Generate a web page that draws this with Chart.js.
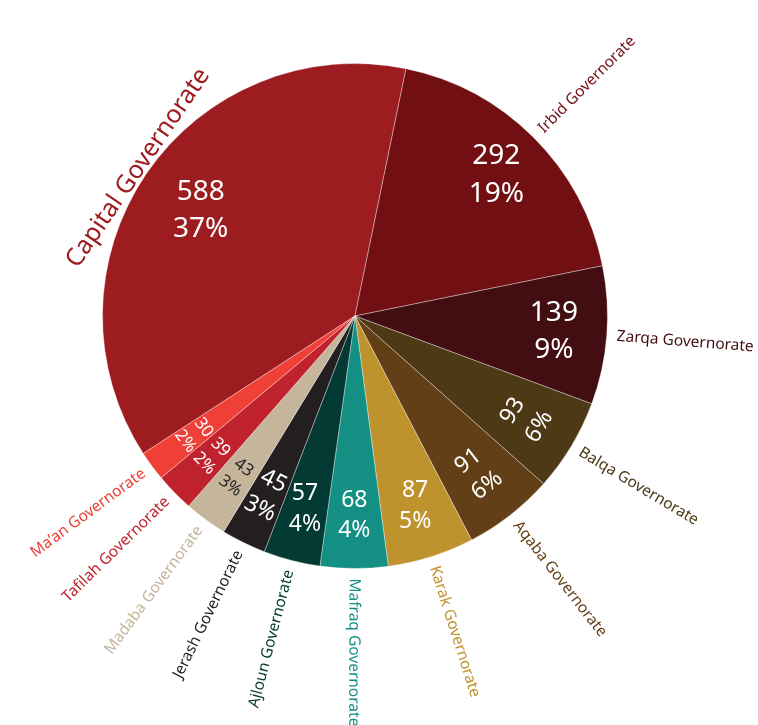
<!DOCTYPE html>
<html>
<head>
<meta charset="utf-8">
<script src="https://cdn.jsdelivr.net/npm/chart.js@4.4.1/dist/chart.umd.min.js"></script>
<style>
  body { margin: 0; background: #fff; }
</style>
</head>
<body>
<canvas id="govChart" width="758" height="725"></canvas>
<script>
const governorates = ["Capital Governorate", "Irbid Governorate", "Zarqa Governorate", "Balqa Governorate",
  "Aqaba Governorate", "Karak Governorate", "Mafraq Governorate", "Ajloun Governorate",
  "Jerash Governorate", "Madaba Governorate", "Tafilah Governorate", "Ma\u2019an Governorate"];
const counts = [588, 292, 139, 93, 91, 87, 68, 57, 45, 43, 39, 30];
const shares = ["37%", "19%", "9%", "6%", "6%", "5%", "4%", "4%", "3%", "3%", "2%", "2%"];

const sliceColors = ["#9D1C20", "#710F12", "#420E12", "#4E3916", "#633F17", "#BE922D",
  "#148F84", "#033A33", "#231F20", "#C4B59B", "#C0232E", "#EE4036"];
const insideColors = ["#fff", "#fff", "#fff", "#fff", "#fff", "#fff",
  "#fff", "#fff", "#fff", "#2a2627", "#fff", "#fff"];
// inner label font size and whether it runs along the arc
const insideSize = [28, 28, 28, 23, 23, 23, 23, 23, 23, 17, 17, 17];
const insideTangent = [false, false, false, true, true, false, false, false, true, true, true, true];

const FONT = '"Noto Sans", "Open Sans", sans-serif';

const sliceLabels = {
  id: 'sliceLabels',
  afterDatasetsDraw(chart) {
    const ctx = chart.ctx;
    const arcs = chart.getDatasetMeta(0).data;
    arcs.forEach((arc, i) => {
      const { x, y, startAngle, endAngle, outerRadius } = arc;
      const mid = (startAngle + endAngle) / 2;
      const cos = Math.cos(mid), sin = Math.sin(mid);

      // count + share inside the slice
      const r = outerRadius * (i === 0 ? 0.74 : 0.79);
      const fs = insideSize[i];
      ctx.save();
      ctx.translate(x + cos * r, y + sin * r);
      if (insideTangent[i]) ctx.rotate(mid - Math.PI / 2);
      ctx.font = fs + 'px ' + FONT;
      ctx.fillStyle = insideColors[i];
      ctx.textAlign = 'center';
      ctx.textBaseline = 'middle';
      const gap = fs * 0.67;
      ctx.fillText(String(counts[i]), 0, -gap);
      ctx.fillText(shares[i], 0, gap);
      ctx.restore();

      // governorate name outside
      ctx.save();
      ctx.fillStyle = sliceColors[i];
      if (i === 0) {
        // the big slice gets its name laid along the rim
        const ro = outerRadius + 3;
        ctx.translate(x + cos * ro, y + sin * ro);
        ctx.rotate(mid + Math.PI / 2);
        ctx.font = '25px ' + FONT;
        ctx.textAlign = 'center';
        ctx.textBaseline = 'alphabetic';
      } else {
        const ro = outerRadius + 10;
        ctx.translate(x + cos * ro, y + sin * ro);
        ctx.font = '15.5px ' + FONT;
        ctx.textBaseline = 'middle';
        if (cos < -0.1) {
          ctx.rotate(mid + Math.PI);
          ctx.textAlign = 'right';
        } else {
          ctx.rotate(mid);
          ctx.textAlign = 'left';
        }
      }
      ctx.fillText(governorates[i], 0, 0);
      ctx.restore();
    });
  }
};

new Chart(document.getElementById('govChart'), {
  type: 'pie',
  data: {
    labels: governorates,
    datasets: [{
      data: counts,
      backgroundColor: sliceColors,
      borderColor: 'rgba(255,255,255,0.35)',
      borderWidth: 1,
      hoverOffset: 0
    }]
  },
  options: {
    responsive: false,
    animation: false,
    rotation: 237,
    layout: { padding: { left: 102, top: 63, right: 150, bottom: 156 } },
    plugins: {
      legend: { display: false },
      tooltip: { enabled: false }
    }
  },
  plugins: [sliceLabels]
});
</script>
</body>
</html>
